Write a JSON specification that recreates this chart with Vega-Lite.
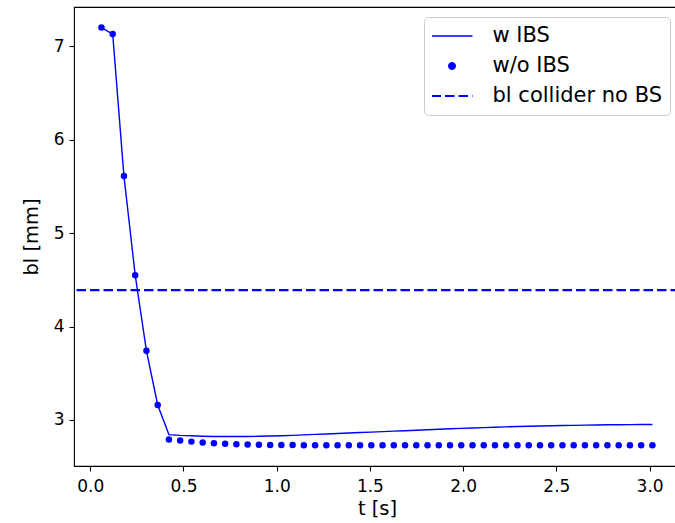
{
  "$schema": "https://vega.github.io/schema/vega-lite/v6.json",
  "autosize": {"type": "none"},
  "padding": {"left": 74, "top": 7, "right": 0, "bottom": 57},
  "width": 606,
  "height": 459,
  "background": "white",
  "config": {
    "font": "DejaVu Sans",
    "view": {"stroke": "black", "strokeWidth": 1.1},
    "axis": {
      "domain": false,
      "grid": false,
      "ticks": true,
      "tickSize": 5,
      "tickColor": "black",
      "tickWidth": 1.1,
      "labelFont": "DejaVu Sans",
      "labelFontSize": 17,
      "labelColor": "black",
      "titleFont": "DejaVu Sans",
      "titleFontSize": 19.5,
      "titleFontWeight": "normal",
      "titleColor": "black"
    }
  },
  "data": {
    "values": [
      {"series": "w IBS", "t": 0.0603, "bl": 7.20},
      {"series": "w IBS", "t": 0.1206, "bl": 7.13},
      {"series": "w IBS", "t": 0.1809, "bl": 5.61},
      {"series": "w IBS", "t": 0.2412, "bl": 4.55},
      {"series": "w IBS", "t": 0.3015, "bl": 3.74},
      {"series": "w IBS", "t": 0.3618, "bl": 3.16},
      {"series": "w IBS", "t": 0.4221, "bl": 2.843},
      {"series": "w IBS", "t": 0.4824, "bl": 2.835},
      {"series": "w IBS", "t": 0.5427, "bl": 2.830},
      {"series": "w IBS", "t": 0.6030, "bl": 2.826},
      {"series": "w IBS", "t": 0.6633, "bl": 2.823},
      {"series": "w IBS", "t": 0.7236, "bl": 2.822},
      {"series": "w IBS", "t": 0.7839, "bl": 2.822},
      {"series": "w IBS", "t": 0.8442, "bl": 2.823},
      {"series": "w IBS", "t": 0.9045, "bl": 2.825},
      {"series": "w IBS", "t": 0.9648, "bl": 2.828},
      {"series": "w IBS", "t": 1.0251, "bl": 2.831},
      {"series": "w IBS", "t": 1.0854, "bl": 2.835},
      {"series": "w IBS", "t": 1.1457, "bl": 2.840},
      {"series": "w IBS", "t": 1.2060, "bl": 2.845},
      {"series": "w IBS", "t": 1.2663, "bl": 2.850},
      {"series": "w IBS", "t": 1.3266, "bl": 2.855},
      {"series": "w IBS", "t": 1.3869, "bl": 2.860},
      {"series": "w IBS", "t": 1.4472, "bl": 2.865},
      {"series": "w IBS", "t": 1.5075, "bl": 2.870},
      {"series": "w IBS", "t": 1.5678, "bl": 2.875},
      {"series": "w IBS", "t": 1.6281, "bl": 2.880},
      {"series": "w IBS", "t": 1.6884, "bl": 2.885},
      {"series": "w IBS", "t": 1.7487, "bl": 2.890},
      {"series": "w IBS", "t": 1.8090, "bl": 2.895},
      {"series": "w IBS", "t": 1.8693, "bl": 2.900},
      {"series": "w IBS", "t": 1.9296, "bl": 2.905},
      {"series": "w IBS", "t": 1.9899, "bl": 2.910},
      {"series": "w IBS", "t": 2.0502, "bl": 2.914},
      {"series": "w IBS", "t": 2.1105, "bl": 2.918},
      {"series": "w IBS", "t": 2.1708, "bl": 2.922},
      {"series": "w IBS", "t": 2.2311, "bl": 2.926},
      {"series": "w IBS", "t": 2.2914, "bl": 2.929},
      {"series": "w IBS", "t": 2.3517, "bl": 2.932},
      {"series": "w IBS", "t": 2.4120, "bl": 2.935},
      {"series": "w IBS", "t": 2.4723, "bl": 2.938},
      {"series": "w IBS", "t": 2.5326, "bl": 2.940},
      {"series": "w IBS", "t": 2.5929, "bl": 2.942},
      {"series": "w IBS", "t": 2.6532, "bl": 2.944},
      {"series": "w IBS", "t": 2.7135, "bl": 2.946},
      {"series": "w IBS", "t": 2.7738, "bl": 2.948},
      {"series": "w IBS", "t": 2.8341, "bl": 2.949},
      {"series": "w IBS", "t": 2.8944, "bl": 2.950},
      {"series": "w IBS", "t": 2.9547, "bl": 2.951},
      {"series": "w IBS", "t": 3.0150, "bl": 2.952},
      {"series": "w/o IBS", "t": 0.0603, "bl": 7.20},
      {"series": "w/o IBS", "t": 0.1206, "bl": 7.13},
      {"series": "w/o IBS", "t": 0.1809, "bl": 5.61},
      {"series": "w/o IBS", "t": 0.2412, "bl": 4.55},
      {"series": "w/o IBS", "t": 0.3015, "bl": 3.74},
      {"series": "w/o IBS", "t": 0.3618, "bl": 3.16},
      {"series": "w/o IBS", "t": 0.4221, "bl": 2.790},
      {"series": "w/o IBS", "t": 0.4824, "bl": 2.779},
      {"series": "w/o IBS", "t": 0.5427, "bl": 2.768},
      {"series": "w/o IBS", "t": 0.6030, "bl": 2.758},
      {"series": "w/o IBS", "t": 0.6633, "bl": 2.751},
      {"series": "w/o IBS", "t": 0.7236, "bl": 2.745},
      {"series": "w/o IBS", "t": 0.7839, "bl": 2.741},
      {"series": "w/o IBS", "t": 0.8442, "bl": 2.738},
      {"series": "w/o IBS", "t": 0.9045, "bl": 2.735},
      {"series": "w/o IBS", "t": 0.9648, "bl": 2.733},
      {"series": "w/o IBS", "t": 1.0251, "bl": 2.732},
      {"series": "w/o IBS", "t": 1.0854, "bl": 2.731},
      {"series": "w/o IBS", "t": 1.1457, "bl": 2.730},
      {"series": "w/o IBS", "t": 1.2060, "bl": 2.730},
      {"series": "w/o IBS", "t": 1.2663, "bl": 2.730},
      {"series": "w/o IBS", "t": 1.3266, "bl": 2.730},
      {"series": "w/o IBS", "t": 1.3869, "bl": 2.730},
      {"series": "w/o IBS", "t": 1.4472, "bl": 2.730},
      {"series": "w/o IBS", "t": 1.5075, "bl": 2.730},
      {"series": "w/o IBS", "t": 1.5678, "bl": 2.729},
      {"series": "w/o IBS", "t": 1.6281, "bl": 2.729},
      {"series": "w/o IBS", "t": 1.6884, "bl": 2.729},
      {"series": "w/o IBS", "t": 1.7487, "bl": 2.729},
      {"series": "w/o IBS", "t": 1.8090, "bl": 2.729},
      {"series": "w/o IBS", "t": 1.8693, "bl": 2.729},
      {"series": "w/o IBS", "t": 1.9296, "bl": 2.729},
      {"series": "w/o IBS", "t": 1.9899, "bl": 2.729},
      {"series": "w/o IBS", "t": 2.0502, "bl": 2.729},
      {"series": "w/o IBS", "t": 2.1105, "bl": 2.729},
      {"series": "w/o IBS", "t": 2.1708, "bl": 2.729},
      {"series": "w/o IBS", "t": 2.2311, "bl": 2.729},
      {"series": "w/o IBS", "t": 2.2914, "bl": 2.729},
      {"series": "w/o IBS", "t": 2.3517, "bl": 2.729},
      {"series": "w/o IBS", "t": 2.4120, "bl": 2.729},
      {"series": "w/o IBS", "t": 2.4723, "bl": 2.729},
      {"series": "w/o IBS", "t": 2.5326, "bl": 2.729},
      {"series": "w/o IBS", "t": 2.5929, "bl": 2.729},
      {"series": "w/o IBS", "t": 2.6532, "bl": 2.729},
      {"series": "w/o IBS", "t": 2.7135, "bl": 2.729},
      {"series": "w/o IBS", "t": 2.7738, "bl": 2.729},
      {"series": "w/o IBS", "t": 2.8341, "bl": 2.729},
      {"series": "w/o IBS", "t": 2.8944, "bl": 2.729},
      {"series": "w/o IBS", "t": 2.9547, "bl": 2.729},
      {"series": "w/o IBS", "t": 3.0150, "bl": 2.729},
      {"series": "bl collider no BS", "bl": 4.39}
    ]
  },
  "encoding": {
    "color": {
      "field": "series",
      "type": "nominal",
      "scale": {"domain": ["w IBS", "w/o IBS", "bl collider no BS"], "range": ["#0000ff", "#0000ff", "#0000ff"]},
      "legend": {
        "title": null,
        "orient": "none",
        "legendX": 350,
        "legendY": 10,
        "padding": 8,
        "strokeColor": "#cccccc",
        "fillColor": "rgba(255,255,255,0.8)",
        "cornerRadius": 4,
        "symbolSize": 1681,
        "symbolOffset": 9.5,
        "clipHeight": 22,
        "rowPadding": 8,
        "labelOffset": 30,
        "labelFont": "DejaVu Sans",
        "labelFontSize": 21,
        "labelColor": "black",
        "labelLimit": 400,
        "labelBaseline": "middle",
        "encode": {
          "symbols": {
            "update": {
              "shape": {"signal": "datum.value === 'w/o IBS' ? 'circle' : 'stroke'"},
              "size": {"signal": "datum.value === 'w/o IBS' ? 42 : 1681"},
              "fill": {"signal": "datum.value === 'w/o IBS' ? '#0000ff' : 'transparent'"},
              "stroke": {"signal": "datum.value === 'w/o IBS' ? 'transparent' : '#0000ff'"},
              "strokeWidth": {"signal": "datum.value === 'bl collider no BS' ? 2.2 : 1.4"},
              "strokeDash": {"signal": "datum.value === 'bl collider no BS' ? [9.5, 4] : [1, 0]"},
              "opacity": {"value": 1}
            }
          }
        }
      }
    }
  },
  "layer": [
    {
      "transform": [{"filter": "datum.series === 'w IBS'"}],
      "mark": {"type": "line", "strokeWidth": 1.4},
      "encoding": {
        "x": {
          "field": "t", "type": "quantitative",
          "scale": {"domain": [-0.087, 3.163], "nice": false, "zero": false},
          "axis": {"values": [0, 0.5, 1, 1.5, 2, 2.5, 3], "format": ".1f", "title": "t [s]", "labelPadding": 7, "titlePadding": 5}
        },
        "y": {
          "field": "bl", "type": "quantitative",
          "scale": {"domain": [2.507, 7.42], "nice": false, "zero": false},
          "axis": {"values": [3, 4, 5, 6, 7], "format": "d", "title": "bl [mm]", "labelPadding": 5, "titlePadding": 12}
        },
        "order": {"field": "t", "type": "quantitative"}
      }
    },
    {
      "transform": [{"filter": "datum.series === 'w/o IBS'"}],
      "mark": {"type": "point", "filled": true, "size": 42, "opacity": 1},
      "encoding": {
        "x": {"field": "t", "type": "quantitative"},
        "y": {"field": "bl", "type": "quantitative"}
      }
    },
    {
      "transform": [{"filter": "datum.series === 'bl collider no BS'"}],
      "mark": {"type": "rule", "strokeWidth": 2.2, "strokeDash": [9.5, 4]},
      "encoding": {
        "y": {"field": "bl", "type": "quantitative"}
      }
    }
  ]
}
